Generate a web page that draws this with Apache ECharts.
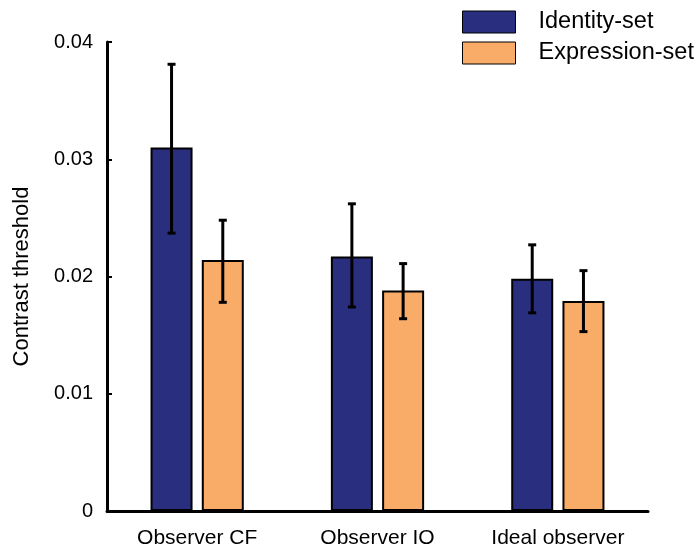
<!DOCTYPE html>
<html><head><meta charset="utf-8">
<script src="https://cdn.jsdelivr.net/npm/echarts@6/dist/echarts.min.js"></script>
<style>html,body{margin:0;padding:0;background:#fff}#c{width:700px;height:552px}</style>
</head><body><div id="c"></div>
<script>
const categories = ['Observer CF', 'Observer IO', 'Ideal observer'];
const identityVals = [0.0310, 0.0217, 0.0198];
const identityLow = [0.0237, 0.0174, 0.0169];
const identityHigh = [0.0381, 0.0262, 0.0227];
const expressionVals = [0.0214, 0.0188, 0.0179];
const expressionLow = [0.0178, 0.0164, 0.0153];
const expressionHigh = [0.0248, 0.0211, 0.0205];
const yTicks = [0, 0.01, 0.02, 0.03, 0.04];

const font = 'Liberation Sans, Arial, Helvetica, sans-serif';
const chart = echarts.init(document.getElementById('c'));

function errSeries(low, high, idx) {
  return {
    type: 'custom',
    z: 10,
    data: low.map((l, i) => [i, l, high[i]]),
    encode: { x: 0, y: [1, 2] },
    renderItem: function (params, api) {
      const ci = api.value(0);
      const p0 = api.coord([ci, api.value(1)]);
      const p1 = api.coord([ci, api.value(2)]);
      const bw = 42, gap = 0.22 * 42;
      const off = (idx === 0 ? -1 : 1) * (bw + gap) / 2;
      const x = p0[0] + off;
      const cap = 4;
      const st = { stroke: '#000', lineWidth: 3 };
      return {
        type: 'group',
        children: [
          { type: 'line', shape: { x1: x, y1: p0[1], x2: x, y2: p1[1] }, style: st },
          { type: 'line', shape: { x1: x - cap, y1: p0[1], x2: x + cap, y2: p0[1] }, style: st },
          { type: 'line', shape: { x1: x - cap, y1: p1[1], x2: x + cap, y2: p1[1] }, style: st }
        ]
      };
    }
  };
}

chart.setOption({
  animation: false,
  backgroundColor: '#fff',
  grid: { left: 107, top: 42, width: 541, bottom: 41, containLabel: false, outerBoundsMode: 'none' },
  legend: {
    left: 462, top: 10, orient: 'vertical', padding: 0, icon: 'rect',
    itemWidth: 53, itemHeight: 22, itemGap: 7,
    textStyle: { fontFamily: font, fontSize: 23.5, lineHeight: 22, color: '#000', padding: [0, 0, 0, 18] },
    data: [
      { name: 'Identity-set', itemStyle: { color: '#2a2e7e', borderColor: '#000', borderWidth: 1 } },
      { name: 'Expression-set', itemStyle: { color: '#f9ac68', borderColor: '#000', borderWidth: 1 } }
    ]
  },
  xAxis: {
    type: 'category', data: categories,
    axisLine: { lineStyle: { color: '#000', width: 3 } },
    axisTick: { alignWithLabel: true, inside: true, length: 4, lineStyle: { color: '#000', width: 1 } },
    axisLabel: { fontFamily: font, fontSize: 21, color: '#000', margin: 17 }
  },
  yAxis: {
    type: 'value', min: 0, max: 0.04, interval: 0.01,
    name: 'Contrast threshold', nameLocation: 'middle', nameGap: 74,
    nameTextStyle: { fontFamily: font, fontSize: 22, color: '#000' },
    axisLine: { show: true, lineStyle: { color: '#000', width: 3 } },
    axisTick: { show: true, inside: true, length: 5, lineStyle: { color: '#000', width: 2 } },
    axisLabel: { fontFamily: font, fontSize: 20, color: '#000', margin: 14,
      formatter: v => { const t = yTicks.find(k => Math.abs(k - v) < 1e-9); return t === 0 ? '0' : String(t); } },
    splitLine: { show: false }
  },
  series: [
    { name: 'Identity-set', type: 'bar', data: identityVals, barWidth: 42, barGap: '22%',
      itemStyle: { color: '#2a2e7e', borderColor: '#000', borderWidth: 2 } },
    { name: 'Expression-set', type: 'bar', data: expressionVals, barWidth: 42, barGap: '22%',
      itemStyle: { color: '#f9ac68', borderColor: '#000', borderWidth: 2 } },
    errSeries(identityLow, identityHigh, 0),
    errSeries(expressionLow, expressionHigh, 1)
  ]
});
</script></body></html>
